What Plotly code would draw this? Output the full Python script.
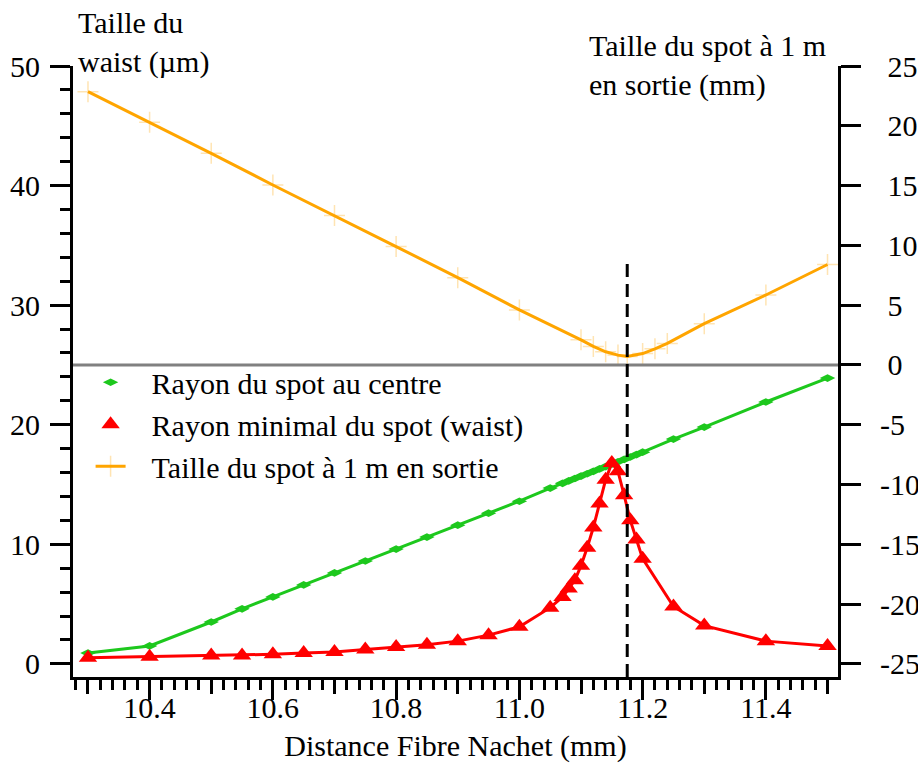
import plotly.graph_objects as go

# ---- data ----
x_pts = [10.3, 10.4, 10.5, 10.55, 10.6, 10.65, 10.7, 10.75, 10.8, 10.85, 10.9, 10.95,
         11.0, 11.05, 11.07, 11.08, 11.09, 11.1, 11.11, 11.12, 11.13, 11.14, 11.15,
         11.16, 11.17, 11.18, 11.19, 11.2, 11.25, 11.3, 11.4, 11.5]
rayon_centre = [0.9, 1.5, 3.5, 4.6, 5.6, 6.6, 7.6, 8.6, 9.6, 10.6, 11.6, 12.6,
                13.6, 14.7, 15.1, 15.3, 15.5, 15.7, 15.9, 16.1, 16.3, 16.5, 16.7,
                16.9, 17.1, 17.3, 17.5, 17.7, 18.8, 19.8, 21.9, 23.9]
rayon_waist = [0.5, 0.6, 0.7, 0.7, 0.8, 0.9, 1.0, 1.2, 1.4, 1.6, 1.9, 2.4,
               3.1, 4.7, 5.6, 6.3, 7.0, 8.2, 9.7, 11.4, 13.4, 15.4, 16.8,
               16.1, 14.1, 12.0, 10.4, 8.8, 4.8, 3.2, 1.9, 1.5]

x_sortie = [10.3, 10.4, 10.5, 10.6, 10.7, 10.8, 10.9, 11.0, 11.1, 11.12, 11.14,
            11.16, 11.175, 11.2, 11.22, 11.24, 11.3, 11.4, 11.5]
taille_sortie = [22.85, 20.3, 17.7, 15.05, 12.5, 9.9, 7.3, 4.6, 2.1, 1.55, 1.1,
                 0.82, 0.7, 0.95, 1.35, 1.8, 3.45, 5.85, 8.4]

x_waist_min = 11.175
x_major = [10.4, 10.6, 10.8, 11.0, 11.2, 11.4]
x_medium = [10.3, 10.5, 10.7, 10.9, 11.1, 11.3, 11.5]
y_left_ticks = [0, 10, 20, 30, 40, 50]
y_right_ticks = [-25, -20, -15, -10, -5, 0, 5, 10, 15, 20, 25]

FONT = "Liberation Serif"
FS = 30
GREEN = "#1DC81D"
RED = "#FF0000"
ORANGE = "#FFA500"
CROSS = "rgba(255,165,0,0.3)"
LEG_PAD = "\u2002\u2009"  # gap between legend symbol and text

fig = go.Figure()

fig.add_trace(go.Scatter(x=x_pts, y=rayon_centre, mode="lines+markers",
                         line=dict(color=GREEN, width=3),
                         marker=dict(symbol="diamond-wide", size=11, color=GREEN),
                         name="Rayon du spot au centre", showlegend=False))
fig.add_trace(go.Scatter(x=x_pts, y=rayon_waist, mode="lines+markers",
                         line=dict(color=RED, width=3),
                         marker=dict(symbol="triangle-up", size=16, color=RED),
                         name="Rayon minimal du spot (waist)", showlegend=False))
fig.add_trace(go.Scatter(x=x_sortie, y=taille_sortie, mode="lines+markers",
                         yaxis="y2",
                         line=dict(color=ORANGE, width=3),
                         marker=dict(symbol="cross-thin", size=15,
                                     line=dict(color=CROSS, width=1.5)),
                         name="Taille du spot à 1 m en sortie", showlegend=False))

# legend entries
fig.add_trace(go.Scatter(x=[None], y=[None], mode="markers",
                         marker=dict(symbol="diamond-wide", size=11, color=GREEN),
                         name=LEG_PAD + "Rayon du spot au centre"))
fig.add_trace(go.Scatter(x=[None], y=[None], mode="markers",
                         marker=dict(symbol="triangle-up", size=16, color=RED),
                         name=LEG_PAD + "Rayon minimal du spot (waist)"))
fig.add_trace(go.Scatter(x=[None], y=[None], mode="lines+markers",
                         line=dict(color=ORANGE, width=3),
                         marker=dict(symbol="cross-thin", size=15,
                                     line=dict(color=CROSS, width=1.5)),
                         name=LEG_PAD + "Taille du spot à 1 m en sortie"))

# helper trace for medium x ticks axis
fig.add_trace(go.Scatter(x=[None], y=[None], xaxis="x3", showlegend=False,
                         hoverinfo="skip"))

xr = [10.2757, 11.517]

fig.update_layout(
    width=918, height=769,
    margin=dict(l=73, r=80, t=66, b=92, autoexpand=False),
    paper_bgcolor="white", plot_bgcolor="white",
    font=dict(family=FONT, size=FS, color="black"),
    xaxis=dict(range=xr, showgrid=False, zeroline=False, automargin=False,
               showline=True, linewidth=3, linecolor="black",
               ticks="outside", ticklen=20, tickwidth=3, tickcolor="black",
               tickmode="array", tickvals=x_major,
               ticktext=[f"{v:.1f}" for v in x_major],
               ticklabelstandoff=-18,
               tickfont=dict(family=FONT, size=FS),
               minor=dict(tickmode="linear", tick0=10.3, dtick=0.02,
                          ticks="outside", ticklen=10, tickwidth=2.5,
                          tickcolor="black", showgrid=False),
               title=dict(text="Distance Fibre Nachet (mm)", standoff=12,
                          font=dict(family=FONT, size=FS))),
    xaxis3=dict(range=xr, overlaying="x", anchor="y", side="bottom",
                showgrid=False, zeroline=False, showline=False, automargin=False,
                ticks="outside", ticklen=16, tickwidth=3, tickcolor="black",
                tickmode="array", tickvals=x_medium, showticklabels=False),
    yaxis=dict(range=[-1.1, 50], showgrid=False, zeroline=False, automargin=False,
               showline=True, linewidth=3, linecolor="black",
               ticks="outside", ticklen=20, tickwidth=3, tickcolor="black",
               tickmode="array", tickvals=y_left_ticks,
               ticklabelstandoff=4,
               tickfont=dict(family=FONT, size=FS),
               minor=dict(tickmode="linear", tick0=0, dtick=2,
                          ticks="outside", ticklen=10, tickwidth=2.5,
                          tickcolor="black", showgrid=False)),
    yaxis2=dict(range=[-26.1, 25], overlaying="y", side="right", automargin=False,
                showgrid=False, zeroline=False,
                showline=True, linewidth=3, linecolor="black",
                ticks="outside", ticklen=20, tickwidth=3, tickcolor="black",
                tickmode="array", tickvals=y_right_ticks,
                ticktext=[("-" + str(-v)) if v < 0 else ("\u2008" + str(v)) for v in y_right_ticks],
                ticklabelstandoff=13,
                tickfont=dict(family=FONT, size=FS)),
    legend=dict(x=0.023, y=0.525, xanchor="left", yanchor="top",
                bgcolor="rgba(0,0,0,0)", font=dict(family=FONT, size=FS),
                itemsizing="trace"),
    shapes=[
        dict(type="line", xref="paper", yref="y", x0=0, x1=1, y0=25, y1=25,
             line=dict(color="#808080", width=3), layer="above"),
        dict(type="line", xref="x", yref="y", x0=x_waist_min, x1=x_waist_min,
             y0=-1.1, y1=34, line=dict(color="black", width=3, dash="13px,7px"),
             layer="above"),
    ],
    annotations=[
        dict(text="Taille du<br>waist (µm)", xref="paper", yref="paper",
             x=0.004, y=1.101, xanchor="left", yanchor="top", showarrow=False,
             align="left", font=dict(family=FONT, size=FS)),
        dict(text="Taille du spot à 1 m<br>en sortie (mm)", xref="paper", yref="paper",
             x=0.672, y=1.064, xanchor="left", yanchor="top", showarrow=False,
             align="left", font=dict(family=FONT, size=FS)),
    ],
)

fig.write_html("out.html", config={"displayModeBar": False},
               post_script="document.body.style.margin='0px';")
